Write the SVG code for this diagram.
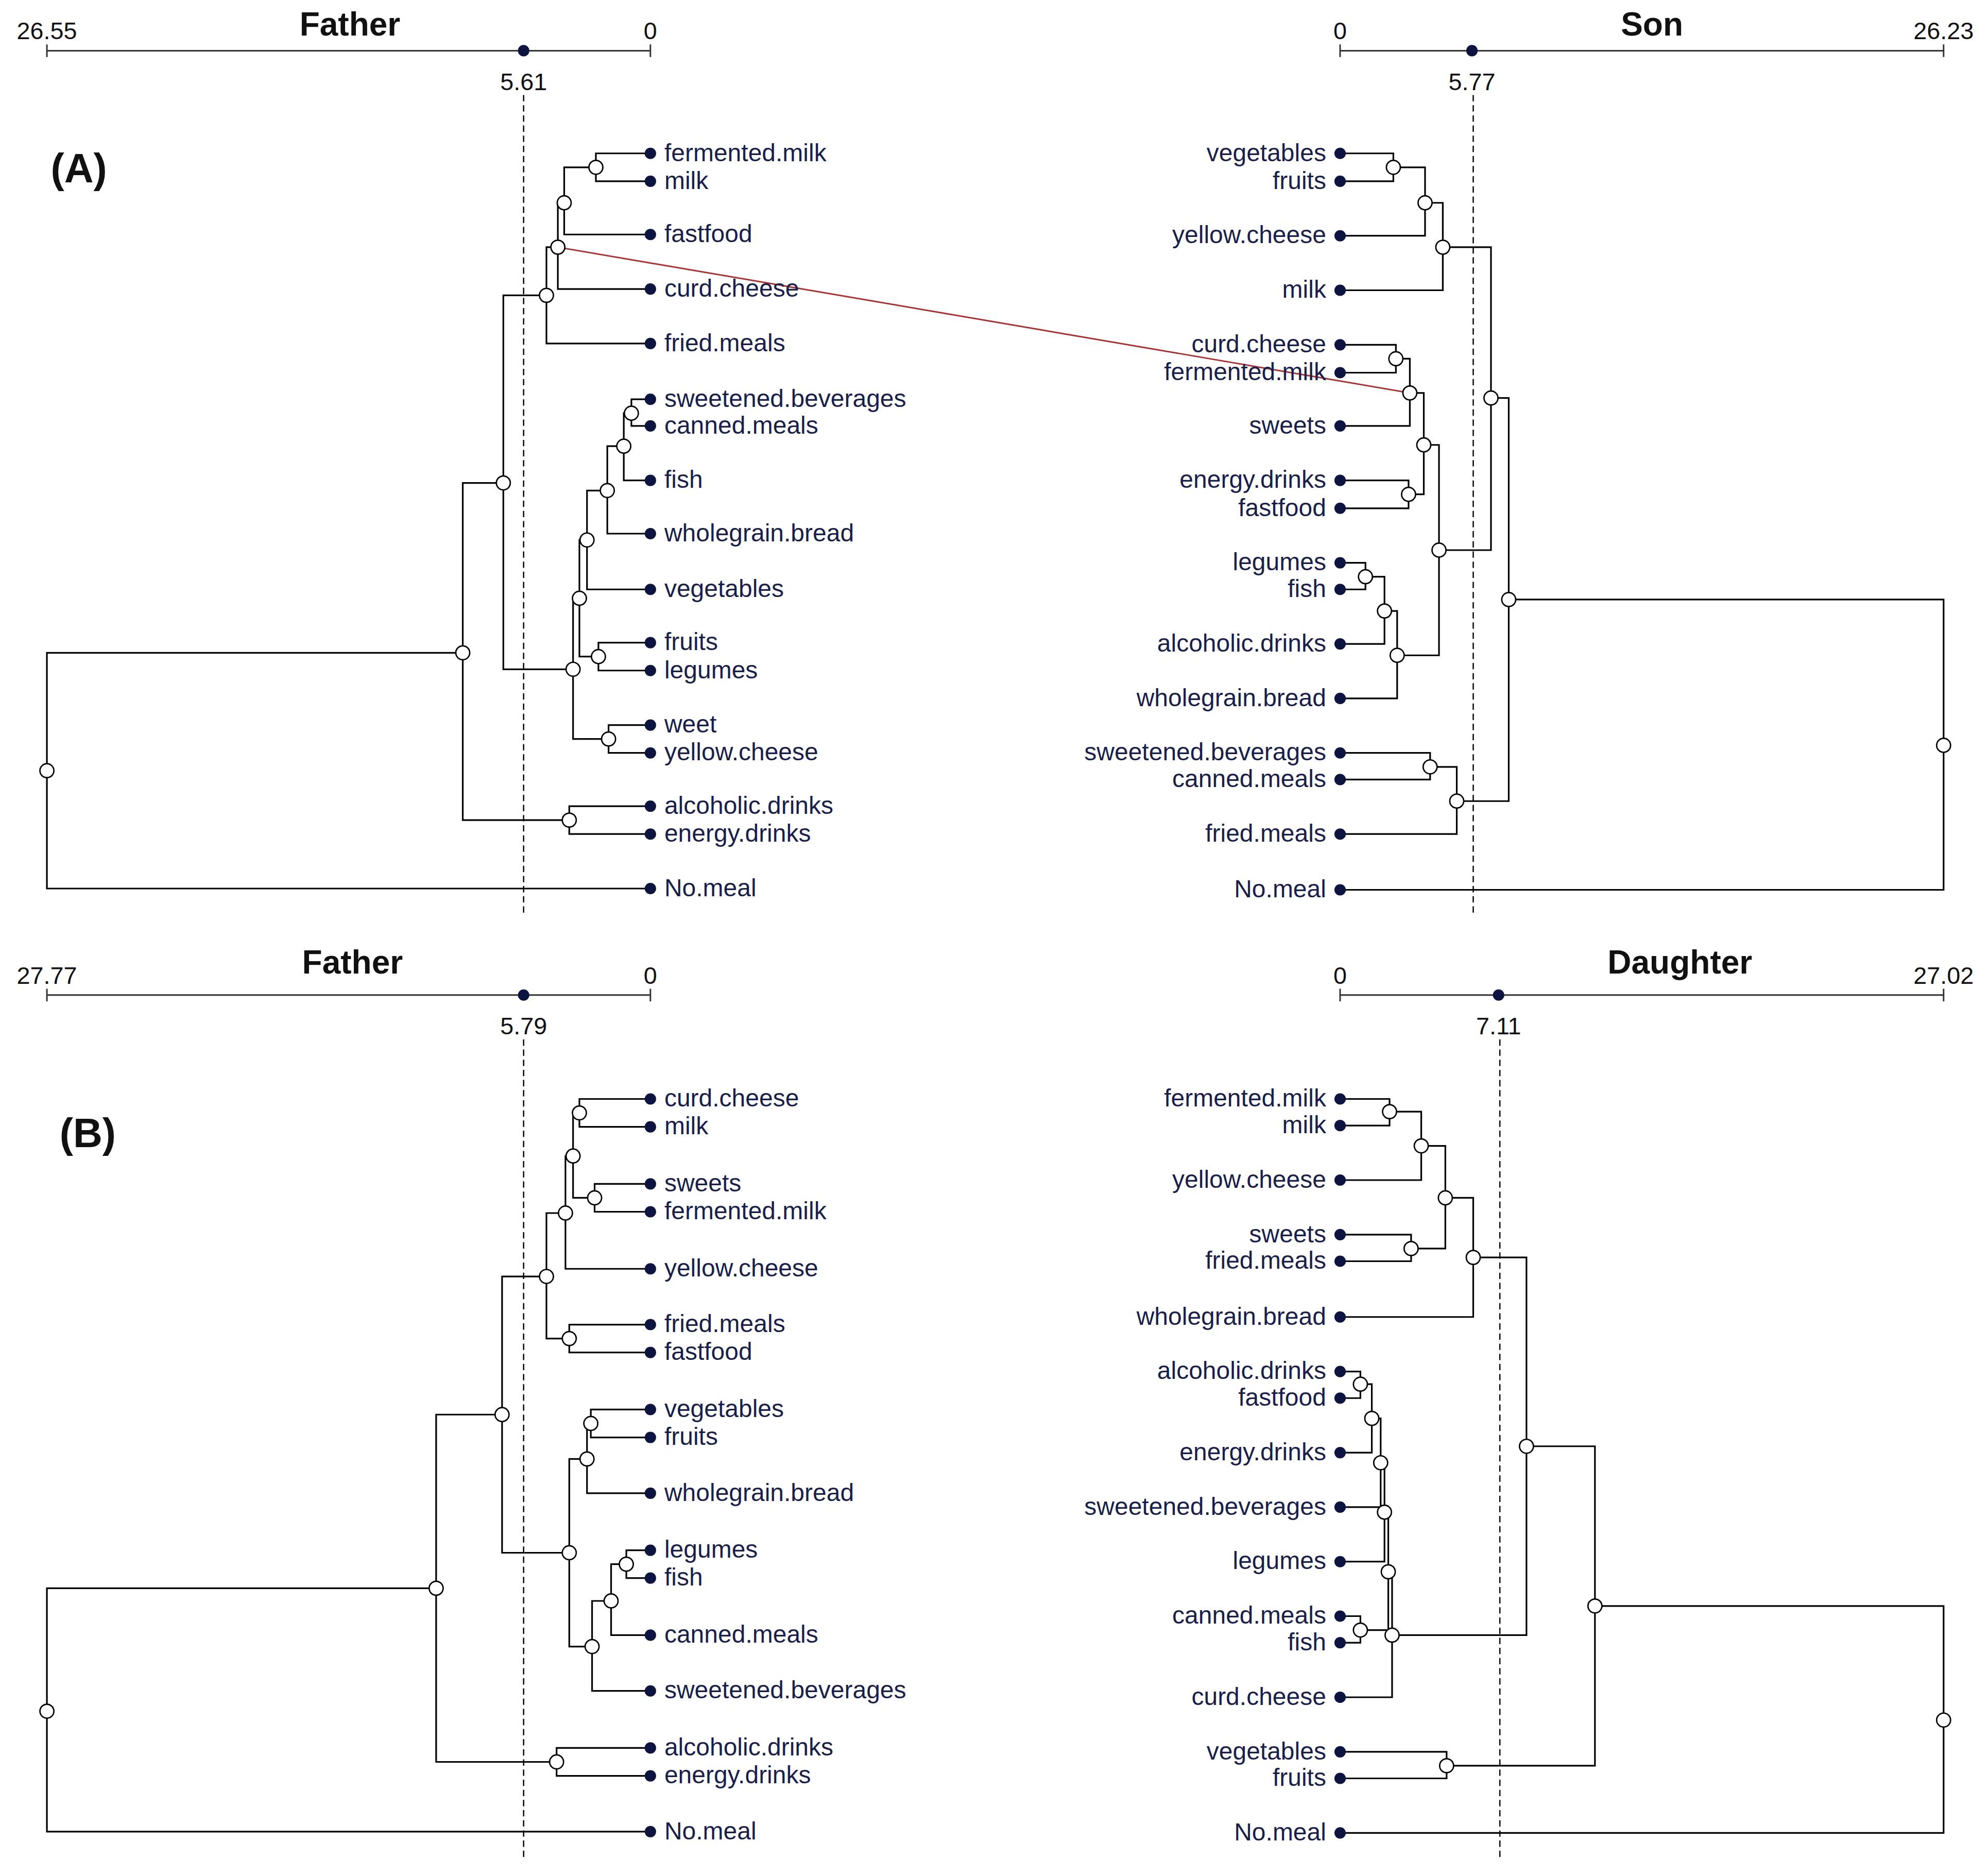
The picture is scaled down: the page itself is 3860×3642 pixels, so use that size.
<svg xmlns="http://www.w3.org/2000/svg" width="3860" height="3642" viewBox="0 0 3860 3642">
<style>
.e{fill:none;stroke:#000;stroke-width:1.3}
.ax{fill:none;stroke:#333;stroke-width:1.2}
.d{fill:none;stroke:#000;stroke-width:1;stroke-dasharray:5 3}
.n{fill:#fff;stroke:#000;stroke-width:1.1}
.l{fill:#0d1440}
.t{font-family:"Liberation Sans",Arial,sans-serif;font-size:19.5px;fill:#1a1f4a}
.r{text-anchor:end}
.a{font-family:"Liberation Sans",Arial,sans-serif;font-size:19px;fill:#111;text-anchor:middle}
.h{font-family:"Liberation Sans",Arial,sans-serif;font-size:26px;font-weight:bold;fill:#111;text-anchor:middle}
.p{font-family:"Liberation Sans",Arial,sans-serif;font-size:32px;font-weight:bold;fill:#111}
</style>
<rect width="3860" height="3642" fill="#fff"/>
<g transform="scale(2.4617,2.4608)">
<g id="axes">
<path class="ax" d="M37 40 H513 M37 35 V45 M513 35 V45 M1057 40 H1533 M1057 35 V45 M1533 35 V45 M37 785 H513 M37 780 V790 M513 780 V790 M1057 785 H1533 M1057 780 V790 M1533 780 V790"/>
<circle class="l" cx="413" cy="40" r="4.5"/><circle class="l" cx="1161" cy="40" r="4.5"/>
<circle class="l" cx="413" cy="785" r="4.5"/><circle class="l" cx="1182" cy="785" r="4.5"/>
<text class="a" x="37" y="31">26.55</text><text class="h" x="276" y="28">Father</text><text class="a" x="513" y="31">0</text><text class="a" x="413" y="71">5.61</text>
<text class="a" x="1057" y="31">0</text><text class="h" x="1303" y="28">Son</text><text class="a" x="1533" y="31">26.23</text><text class="a" x="1161" y="71">5.77</text>
<text class="a" x="37" y="776">27.77</text><text class="h" x="278" y="768">Father</text><text class="a" x="513" y="776">0</text><text class="a" x="413" y="816">5.79</text>
<text class="a" x="1057" y="776">0</text><text class="h" x="1325" y="768">Daughter</text><text class="a" x="1533" y="776">27.02</text><text class="a" x="1182" y="816">7.11</text>
<path class="d" d="M413 75 V722 M1162 75 V722 M413 820 V1468 M1183 820 V1468"/>
<text class="p" x="40" y="144">(A)</text><text class="p" x="47" y="905">(B)</text>
</g>
<g id="connectors">
<path class="e" d="M513 121 H470 V143 H513 M470 132 H445 V185 H513 M445 160 H440 V228 H513 M440 195 H431 V271 H513 M513 315 H498 V336 H513 M498 326 H492 V379 H513 M492 352 H479 V421 H513 M479 387 H463 V465 H513 M513 507 H472 V529 H513 M463 426 H457 V518 H472 M513 572 H480 V594 H513 M457 472 H452 V583 H480 M431 233 H397 V528 H452 M513 636 H449 V658 H513 M397 381 H365 V647 H449 M365 515 H37 V701 H513"/>
<path class="e" d="M1057 121 H1099 V143 H1057 M1099 132 H1124 V186 H1057 M1124 160 H1138 V229 H1057 M1057 272 H1101 V294 H1057 M1101 283 H1112 V336 H1057 M1057 379 H1111 V401 H1057 M1112 310 H1123 V390 H1111 M1057 444 H1077 V465 H1057 M1077 455 H1092 V508 H1057 M1092 482 H1102 V551 H1057 M1123 351 H1135 V517 H1102 M1138 195 H1176 V434 H1135 M1057 594 H1128 V615 H1057 M1128 605 H1149 V658 H1057 M1176 314 H1190 V632 H1149 M1190 473 H1533 V702 H1057"/>
<path class="e" d="M513 867 H457 V889 H513 M513 934 H469 V956 H513 M457 878 H452 V945 H469 M452 912 H446 V1001 H513 M513 1045 H449 V1067 H513 M446 957 H431 V1056 H449 M513 1112 H466 V1134 H513 M466 1123 H463 V1178 H513 M513 1223 H494 V1245 H513 M494 1234 H482 V1290 H513 M482 1263 H467 V1334 H513 M463 1151 H449 V1299 H467 M431 1007 H396 V1225 H449 M513 1379 H439 V1401 H513 M396 1116 H344 V1390 H439 M344 1253 H37 V1445 H513"/>
<path class="e" d="M1057 867 H1096 V888 H1057 M1096 877 H1121 V931 H1057 M1057 974 H1113 V995 H1057 M1121 904 H1140 V985 H1113 M1140 945 H1162 V1039 H1057 M1057 1082 H1073 V1103 H1057 M1073 1092 H1082 V1146 H1057 M1082 1119 H1089 V1189 H1057 M1089 1154 H1092 V1232 H1057 M1057 1275 H1073 V1296 H1057 M1092 1193 H1095 V1286 H1073 M1095 1240 H1098 V1339 H1057 M1162 992 H1204 V1290 H1098 M1057 1382 H1141 V1403 H1057 M1204 1141 H1258 V1393 H1141 M1258 1267 H1533 V1446 H1057"/>
<path d="M440 195 L1112 310" fill="none" stroke="#a83232" stroke-width="1.2"/>
</g>
<g id="internal-nodes">
<circle class="n" cx="470" cy="132" r="5.5"/><circle class="n" cx="445" cy="160" r="5.5"/><circle class="n" cx="440" cy="195" r="5.5"/><circle class="n" cx="431" cy="233" r="5.5"/><circle class="n" cx="498" cy="326" r="5.5"/><circle class="n" cx="492" cy="352" r="5.5"/><circle class="n" cx="479" cy="387" r="5.5"/><circle class="n" cx="463" cy="426" r="5.5"/><circle class="n" cx="472" cy="518" r="5.5"/><circle class="n" cx="457" cy="472" r="5.5"/><circle class="n" cx="480" cy="583" r="5.5"/><circle class="n" cx="452" cy="528" r="5.5"/><circle class="n" cx="397" cy="381" r="5.5"/><circle class="n" cx="449" cy="647" r="5.5"/><circle class="n" cx="365" cy="515" r="5.5"/><circle class="n" cx="37" cy="608" r="5.5"/>
<circle class="n" cx="1099" cy="132" r="5.5"/><circle class="n" cx="1124" cy="160" r="5.5"/><circle class="n" cx="1138" cy="195" r="5.5"/><circle class="n" cx="1101" cy="283" r="5.5"/><circle class="n" cx="1112" cy="310" r="5.5"/><circle class="n" cx="1111" cy="390" r="5.5"/><circle class="n" cx="1123" cy="351" r="5.5"/><circle class="n" cx="1077" cy="455" r="5.5"/><circle class="n" cx="1092" cy="482" r="5.5"/><circle class="n" cx="1102" cy="517" r="5.5"/><circle class="n" cx="1135" cy="434" r="5.5"/><circle class="n" cx="1176" cy="314" r="5.5"/><circle class="n" cx="1128" cy="605" r="5.5"/><circle class="n" cx="1149" cy="632" r="5.5"/><circle class="n" cx="1190" cy="473" r="5.5"/><circle class="n" cx="1533" cy="588" r="5.5"/>
<circle class="n" cx="457" cy="878" r="5.5"/><circle class="n" cx="469" cy="945" r="5.5"/><circle class="n" cx="452" cy="912" r="5.5"/><circle class="n" cx="446" cy="957" r="5.5"/><circle class="n" cx="449" cy="1056" r="5.5"/><circle class="n" cx="431" cy="1007" r="5.5"/><circle class="n" cx="466" cy="1123" r="5.5"/><circle class="n" cx="463" cy="1151" r="5.5"/><circle class="n" cx="494" cy="1234" r="5.5"/><circle class="n" cx="482" cy="1263" r="5.5"/><circle class="n" cx="467" cy="1299" r="5.5"/><circle class="n" cx="449" cy="1225" r="5.5"/><circle class="n" cx="396" cy="1116" r="5.5"/><circle class="n" cx="439" cy="1390" r="5.5"/><circle class="n" cx="344" cy="1253" r="5.5"/><circle class="n" cx="37" cy="1350" r="5.5"/>
<circle class="n" cx="1096" cy="877" r="5.5"/><circle class="n" cx="1121" cy="904" r="5.5"/><circle class="n" cx="1113" cy="985" r="5.5"/><circle class="n" cx="1140" cy="945" r="5.5"/><circle class="n" cx="1162" cy="992" r="5.5"/><circle class="n" cx="1073" cy="1092" r="5.5"/><circle class="n" cx="1082" cy="1119" r="5.5"/><circle class="n" cx="1089" cy="1154" r="5.5"/><circle class="n" cx="1092" cy="1193" r="5.5"/><circle class="n" cx="1073" cy="1286" r="5.5"/><circle class="n" cx="1095" cy="1240" r="5.5"/><circle class="n" cx="1098" cy="1290" r="5.5"/><circle class="n" cx="1204" cy="1141" r="5.5"/><circle class="n" cx="1141" cy="1393" r="5.5"/><circle class="n" cx="1258" cy="1267" r="5.5"/><circle class="n" cx="1533" cy="1357" r="5.5"/>
</g>
<g id="leaves-A-father">
<g id="la1"><circle class="l" cx="513" cy="121" r="4.5"/><text class="t" x="524" y="127">fermented.milk</text></g>
<g id="la2"><circle class="l" cx="513" cy="143" r="4.5"/><text class="t" x="524" y="149">milk</text></g>
<g id="la3"><circle class="l" cx="513" cy="185" r="4.5"/><text class="t" x="524" y="191">fastfood</text></g>
<g id="la4"><circle class="l" cx="513" cy="228" r="4.5"/><text class="t" x="524" y="234">curd.cheese</text></g>
<g id="la5"><circle class="l" cx="513" cy="271" r="4.5"/><text class="t" x="524" y="277">fried.meals</text></g>
<g id="la6"><circle class="l" cx="513" cy="315" r="4.5"/><text class="t" x="524" y="321">sweetened.beverages</text></g>
<g id="la7"><circle class="l" cx="513" cy="336" r="4.5"/><text class="t" x="524" y="342">canned.meals</text></g>
<g id="la8"><circle class="l" cx="513" cy="379" r="4.5"/><text class="t" x="524" y="385">fish</text></g>
<g id="la9"><circle class="l" cx="513" cy="421" r="4.5"/><text class="t" x="524" y="427">wholegrain.bread</text></g>
<g id="la10"><circle class="l" cx="513" cy="465" r="4.5"/><text class="t" x="524" y="471">vegetables</text></g>
<g id="la11"><circle class="l" cx="513" cy="507" r="4.5"/><text class="t" x="524" y="513">fruits</text></g>
<g id="la12"><circle class="l" cx="513" cy="529" r="4.5"/><text class="t" x="524" y="535">legumes</text></g>
<g id="la13"><circle class="l" cx="513" cy="572" r="4.5"/><text class="t" x="524" y="578">weet</text></g>
<g id="la14"><circle class="l" cx="513" cy="594" r="4.5"/><text class="t" x="524" y="600">yellow.cheese</text></g>
<g id="la15"><circle class="l" cx="513" cy="636" r="4.5"/><text class="t" x="524" y="642">alcoholic.drinks</text></g>
<g id="la16"><circle class="l" cx="513" cy="658" r="4.5"/><text class="t" x="524" y="664">energy.drinks</text></g>
<g id="la17"><circle class="l" cx="513" cy="701" r="4.5"/><text class="t" x="524" y="707">No.meal</text></g>
</g>
<g id="leaves-A-son">
<g id="ra1"><circle class="l" cx="1057" cy="121" r="4.5"/><text class="t r" x="1046" y="127">vegetables</text></g>
<g id="ra2"><circle class="l" cx="1057" cy="143" r="4.5"/><text class="t r" x="1046" y="149">fruits</text></g>
<g id="ra3"><circle class="l" cx="1057" cy="186" r="4.5"/><text class="t r" x="1046" y="192">yellow.cheese</text></g>
<g id="ra4"><circle class="l" cx="1057" cy="229" r="4.5"/><text class="t r" x="1046" y="235">milk</text></g>
<g id="ra5"><circle class="l" cx="1057" cy="272" r="4.5"/><text class="t r" x="1046" y="278">curd.cheese</text></g>
<g id="ra6"><circle class="l" cx="1057" cy="294" r="4.5"/><text class="t r" x="1046" y="300">fermented.milk</text></g>
<g id="ra7"><circle class="l" cx="1057" cy="336" r="4.5"/><text class="t r" x="1046" y="342">sweets</text></g>
<g id="ra8"><circle class="l" cx="1057" cy="379" r="4.5"/><text class="t r" x="1046" y="385">energy.drinks</text></g>
<g id="ra9"><circle class="l" cx="1057" cy="401" r="4.5"/><text class="t r" x="1046" y="407">fastfood</text></g>
<g id="ra10"><circle class="l" cx="1057" cy="444" r="4.5"/><text class="t r" x="1046" y="450">legumes</text></g>
<g id="ra11"><circle class="l" cx="1057" cy="465" r="4.5"/><text class="t r" x="1046" y="471">fish</text></g>
<g id="ra12"><circle class="l" cx="1057" cy="508" r="4.5"/><text class="t r" x="1046" y="514">alcoholic.drinks</text></g>
<g id="ra13"><circle class="l" cx="1057" cy="551" r="4.5"/><text class="t r" x="1046" y="557">wholegrain.bread</text></g>
<g id="ra14"><circle class="l" cx="1057" cy="594" r="4.5"/><text class="t r" x="1046" y="600">sweetened.beverages</text></g>
<g id="ra15"><circle class="l" cx="1057" cy="615" r="4.5"/><text class="t r" x="1046" y="621">canned.meals</text></g>
<g id="ra16"><circle class="l" cx="1057" cy="658" r="4.5"/><text class="t r" x="1046" y="664">fried.meals</text></g>
<g id="ra17"><circle class="l" cx="1057" cy="702" r="4.5"/><text class="t r" x="1046" y="708">No.meal</text></g>
</g>
<g id="leaves-B-father">
<g id="lb1"><circle class="l" cx="513" cy="867" r="4.5"/><text class="t" x="524" y="873">curd.cheese</text></g>
<g id="lb2"><circle class="l" cx="513" cy="889" r="4.5"/><text class="t" x="524" y="895">milk</text></g>
<g id="lb3"><circle class="l" cx="513" cy="934" r="4.5"/><text class="t" x="524" y="940">sweets</text></g>
<g id="lb4"><circle class="l" cx="513" cy="956" r="4.5"/><text class="t" x="524" y="962">fermented.milk</text></g>
<g id="lb5"><circle class="l" cx="513" cy="1001" r="4.5"/><text class="t" x="524" y="1007">yellow.cheese</text></g>
<g id="lb6"><circle class="l" cx="513" cy="1045" r="4.5"/><text class="t" x="524" y="1051">fried.meals</text></g>
<g id="lb7"><circle class="l" cx="513" cy="1067" r="4.5"/><text class="t" x="524" y="1073">fastfood</text></g>
<g id="lb8"><circle class="l" cx="513" cy="1112" r="4.5"/><text class="t" x="524" y="1118">vegetables</text></g>
<g id="lb9"><circle class="l" cx="513" cy="1134" r="4.5"/><text class="t" x="524" y="1140">fruits</text></g>
<g id="lb10"><circle class="l" cx="513" cy="1178" r="4.5"/><text class="t" x="524" y="1184">wholegrain.bread</text></g>
<g id="lb11"><circle class="l" cx="513" cy="1223" r="4.5"/><text class="t" x="524" y="1229">legumes</text></g>
<g id="lb12"><circle class="l" cx="513" cy="1245" r="4.5"/><text class="t" x="524" y="1251">fish</text></g>
<g id="lb13"><circle class="l" cx="513" cy="1290" r="4.5"/><text class="t" x="524" y="1296">canned.meals</text></g>
<g id="lb14"><circle class="l" cx="513" cy="1334" r="4.5"/><text class="t" x="524" y="1340">sweetened.beverages</text></g>
<g id="lb15"><circle class="l" cx="513" cy="1379" r="4.5"/><text class="t" x="524" y="1385">alcoholic.drinks</text></g>
<g id="lb16"><circle class="l" cx="513" cy="1401" r="4.5"/><text class="t" x="524" y="1407">energy.drinks</text></g>
<g id="lb17"><circle class="l" cx="513" cy="1445" r="4.5"/><text class="t" x="524" y="1451">No.meal</text></g>
</g>
<g id="leaves-B-daughter">
<g id="rb1"><circle class="l" cx="1057" cy="867" r="4.5"/><text class="t r" x="1046" y="873">fermented.milk</text></g>
<g id="rb2"><circle class="l" cx="1057" cy="888" r="4.5"/><text class="t r" x="1046" y="894">milk</text></g>
<g id="rb3"><circle class="l" cx="1057" cy="931" r="4.5"/><text class="t r" x="1046" y="937">yellow.cheese</text></g>
<g id="rb4"><circle class="l" cx="1057" cy="974" r="4.5"/><text class="t r" x="1046" y="980">sweets</text></g>
<g id="rb5"><circle class="l" cx="1057" cy="995" r="4.5"/><text class="t r" x="1046" y="1001">fried.meals</text></g>
<g id="rb6"><circle class="l" cx="1057" cy="1039" r="4.5"/><text class="t r" x="1046" y="1045">wholegrain.bread</text></g>
<g id="rb7"><circle class="l" cx="1057" cy="1082" r="4.5"/><text class="t r" x="1046" y="1088">alcoholic.drinks</text></g>
<g id="rb8"><circle class="l" cx="1057" cy="1103" r="4.5"/><text class="t r" x="1046" y="1109">fastfood</text></g>
<g id="rb9"><circle class="l" cx="1057" cy="1146" r="4.5"/><text class="t r" x="1046" y="1152">energy.drinks</text></g>
<g id="rb10"><circle class="l" cx="1057" cy="1189" r="4.5"/><text class="t r" x="1046" y="1195">sweetened.beverages</text></g>
<g id="rb11"><circle class="l" cx="1057" cy="1232" r="4.5"/><text class="t r" x="1046" y="1238">legumes</text></g>
<g id="rb12"><circle class="l" cx="1057" cy="1275" r="4.5"/><text class="t r" x="1046" y="1281">canned.meals</text></g>
<g id="rb13"><circle class="l" cx="1057" cy="1296" r="4.5"/><text class="t r" x="1046" y="1302">fish</text></g>
<g id="rb14"><circle class="l" cx="1057" cy="1339" r="4.5"/><text class="t r" x="1046" y="1345">curd.cheese</text></g>
<g id="rb15"><circle class="l" cx="1057" cy="1382" r="4.5"/><text class="t r" x="1046" y="1388">vegetables</text></g>
<g id="rb16"><circle class="l" cx="1057" cy="1403" r="4.5"/><text class="t r" x="1046" y="1409">fruits</text></g>
<g id="rb17"><circle class="l" cx="1057" cy="1446" r="4.5"/><text class="t r" x="1046" y="1452">No.meal</text></g>
</g>
</g>
</svg>
